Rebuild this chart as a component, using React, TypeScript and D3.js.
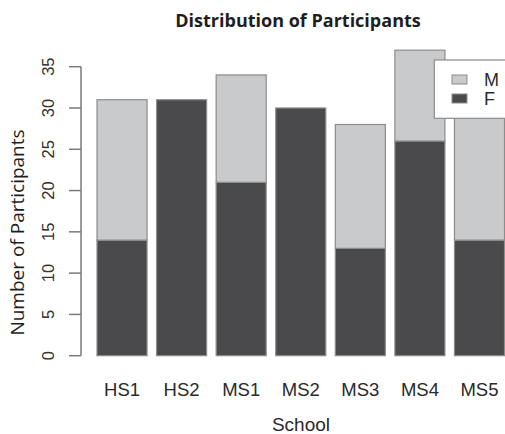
import { useMemo } from "react";
import * as d3 from "d3";

const W = 505;
const H = 434;

const SCHOOLS = ["HS1", "HS2", "MS1", "MS2", "MS3", "MS4", "MS5"];
const FEMALE = [14, 31, 21, 30, 13, 26, 14];
const MALE = [17, 0, 13, 0, 15, 11, 18];
const Y_TICKS = [0, 5, 10, 15, 20, 25, 30, 35];
const LEGEND = ["M", "F"];

const COLOR: Record<string, string> = { F: "#4a4a4c", M: "#c9cacc" };
const EDGE = "#8c8c8c";
const AXIS = "#7a7a7a";
const SANS = "'Liberation Sans', Arial, sans-serif";

export default function App() {
  const rows = useMemo(
    () => SCHOOLS.map((s, i) => ({ school: s, F: FEMALE[i], M: MALE[i] })),
    [],
  );
  const series = useMemo(() => d3.stack<any>().keys(["F", "M"])(rows), [rows]);

  const x = d3.scaleBand().domain(SCHOOLS).range([97, 504.5]).paddingInner(0.16).paddingOuter(0);
  const y = d3.scaleLinear().domain([0, 35]).range([355.7, 66.7]);

  return (
    <svg width={W} height={H} style={{ position: "absolute", left: 0, top: 0, background: "#fff" }}>
      {/* bars */}
      {series.map((s) => (
        <g key={s.key}>
          {s.map((d, i) =>
            d[1] - d[0] > 0 ? (
              <rect
                key={i}
                x={x(SCHOOLS[i])!}
                y={y(d[1])}
                width={x.bandwidth()}
                height={y(d[0]) - y(d[1])}
                fill={COLOR[s.key]}
                stroke={EDGE}
                strokeWidth={1.2}
              />
            ) : null,
          )}
        </g>
      ))}

      {/* y axis */}
      <g stroke={AXIS} strokeWidth={1.5} fill="none">
        <line x1={81} x2={81} y1={y(0)} y2={y(35)} />
        {Y_TICKS.map((t) => (
          <line key={t} x1={69} x2={81} y1={y(t)} y2={y(t)} />
        ))}
      </g>
      {Y_TICKS.map((t) => (
        <text
          key={t}
          transform={`translate(53.5,${y(t)}) rotate(-90)`}
          textAnchor="middle"
          fontFamily={SANS}
          fontSize={16.5}
          fill="#333"
        >
          {t}
        </text>
      ))}

      {/* x labels */}
      {SCHOOLS.map((s) => (
        <text
          key={s}
          x={x(s)! + x.bandwidth() / 2}
          y={395.5}
          textAnchor="middle"
          fontFamily={SANS}
          fontSize={18.5}
          fill="#2a2a2a"
        >
          {s}
        </text>
      ))}

      {/* titles */}
      <text x={298} y={27} textAnchor="middle" fontFamily="'Open Sans', sans-serif" fontWeight={700} fontSize={18} fill="#1e1e1e">
        Distribution of Participants
      </text>
      <text x={301} y={431} textAnchor="middle" fontFamily={SANS} fontSize={19} fill="#2a2a2a">
        School
      </text>
      <text
        transform={`translate(23.5,232.5) rotate(-90)`}
        textAnchor="middle"
        fontFamily="'Open Sans', sans-serif"
        fontSize={19}
        fill="#1e1e1e"
      >
        Number of Participants
      </text>

      {/* legend */}
      <rect x={434.3} y={60} width={90} height={58.3} fill="#fff" stroke={EDGE} strokeWidth={1.2} />
      {LEGEND.map((k, i) => (
        <g key={k}>
          <rect x={452} y={75 + i * 19} width={15} height={9} fill={COLOR[k]} stroke={EDGE} strokeWidth={1} />
          <text x={484} y={86 + i * 19} fontFamily={SANS} fontSize={18} fill="#2a2a2a">
            {k}
          </text>
        </g>
      ))}
    </svg>
  );
}
